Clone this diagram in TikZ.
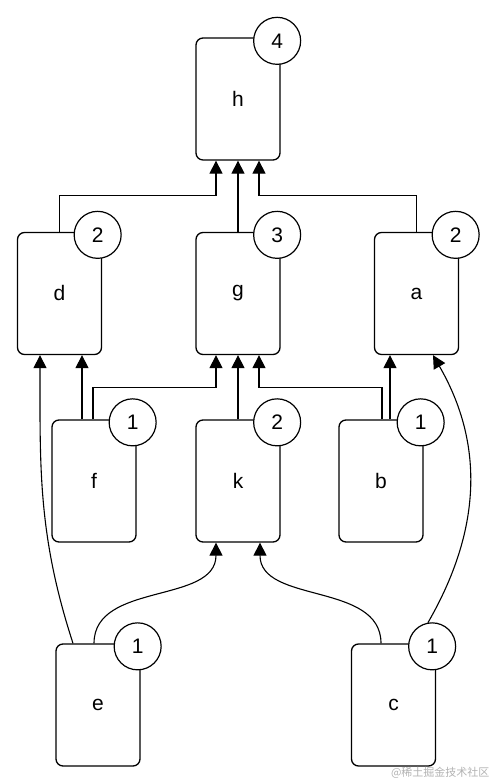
\documentclass[tikz,border=0pt]{standalone}
\usepackage{fontspec}
\setmainfont{Liberation Sans}
\newfontfamily\cjk{Noto Sans CJK SC}
\usetikzlibrary{arrows.meta}

\begin{document}
\begin{tikzpicture}[x=1pt, y=1pt,
    box/.style={draw, line width=1.3pt, rounded corners=7pt, minimum width=84pt, minimum height=122pt, inner sep=0pt, font=\fontsize{21}{25}\selectfont},
    num/.style={draw, circle, fill=white, line width=1.2pt, minimum size=47pt, inner sep=0pt, font=\fontsize{21}{25}\selectfont},
    arr/.style={line width=1.1pt, -{Triangle[length=13pt, width=13pt]}}]
    \useasboundingbox (0,0) rectangle (496,783);

    % Boxes
    \node[box] (h) at (238,684) {h};
    \node[box] (d) at (59.5,489.5) {d};
    \node[box] (g) at (238,489.5) {g};
    \node[box] (a) at (416.5,489.5) {a};
    \node[box] (f) at (94,302) {f};
    \node[box] (k) at (238,302) {k};
    \node[box] (b) at (381,302) {b};
    \node[box] (e) at (98,78) {e};
    \node[box] (c) at (393.5,78) {c};

    % Counts
    \node[num] (hn) at ([shift={(-3.5,-3.5)}]h.north east) {4};
    \node[num] (dn) at ([shift={(-4.5,-3)}]d.north east) {2};
    \node[num] (gn) at ([shift={(-3.5,-3)}]g.north east) {3};
    \node[num] (an) at ([shift={(-3.5,-3)}]a.north east) {2};
    \node[num] (fn) at ([shift={(-4,-3)}]f.north east) {1};
    \node[num] (kn) at ([shift={(-3.5,-3)}]k.north east) {2};
    \node[num] (bn) at ([shift={(-3,-3)}]b.north east) {1};
    \node[num] (en) at ([shift={(-3,-3)}]e.north east) {1};
    \node[num] (cn) at ([shift={(-4,-3)}]c.north east) {1};

    % Edges
    \draw[arr] (d.north) -- ++(0,36) -| ([xshift=-22pt]h.south);
    \draw[arr] (g.north) -- (h.south);
    \draw[arr] (a.north) -- ++(0,36) -| ([xshift=21pt]h.south);
    \draw[arr] ([xshift=-12pt]f.north) -- ([xshift=-12pt]f.north |- d.south);
    \draw[arr] ([xshift=-1pt]f.north) -- ++(0,32) -| ([xshift=-22pt]g.south);
    \draw[arr] (k.north) -- (g.south);
    \draw[arr] ([xshift=1pt]b.north) -- ++(0,32) -| ([xshift=21pt]g.south);
    \draw[arr] ([xshift=9pt]b.north) -- ([xshift=9pt]b.north |- a.south);
    \draw[arr] ([xshift=-25pt]e.north) to[out=108, in=-90] ([xshift=-19.5pt]d.south);
    \draw[arr] ([xshift=-4pt]e.north) to[out=90, in=-90] ([xshift=-22pt]k.south);
    \draw[arr] ([xshift=-12.5pt]c.north) to[out=90, in=-90] ([xshift=22pt]k.south);
    \draw[arr] (cn.100) to[out=60, in=-60] ([xshift=16.5pt]a.south);

    \node[text=black!30, font=\cjk\fontsize{11}{13}\selectfont, anchor=east] (wm) at (493,10) {@稀土掘金技术社区};
\end{tikzpicture}
\end{document}
